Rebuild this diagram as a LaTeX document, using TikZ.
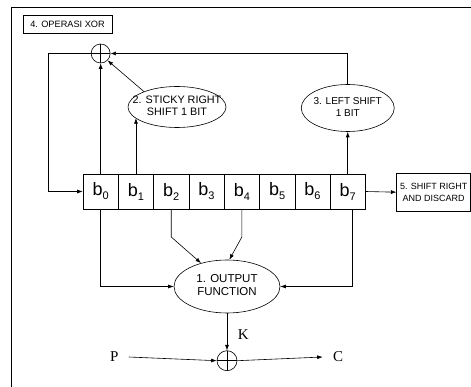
\documentclass[tikz,border=0pt]{standalone}
\usepackage{fontspec}
\setmainfont{Liberation Sans}
\newfontfamily\timesfont{Liberation Serif}
\usetikzlibrary{arrows.meta,shapes.geometric}

\newcommand{\bitlabel}[1]{b\raisebox{-4pt}{\fontsize{11}{11}\selectfont #1}}
\newcommand{\ovaltext}[2]{\makebox[40pt]{\begin{tabular}{@{}c@{}}#1\\#2\end{tabular}}}

\tikzset{
  cell/.style={draw, minimum width=35.3pt, minimum height=35pt, inner sep=0pt,
    font=\fontsize{18}{20}\selectfont},
  oval/.style={draw, ellipse, inner sep=0pt, font=\fontsize{10}{12}\selectfont},
  boxlabel/.style={draw, inner sep=0pt, align=center},
  xorop/.style={circle, draw, minimum size=19pt, inner sep=0pt,
    path picture={\draw (path picture bounding box.north) -- (path picture bounding box.south)
      (path picture bounding box.west) -- (path picture bounding box.east);}},
  sig/.style={inner sep=10pt, font=\timesfont\fontsize{15}{17}\selectfont},
}

\begin{document}
\begin{tikzpicture}[x=1pt, y=-1pt, line width=0.6pt, >={Latex[length=5.5pt,width=4pt]}]
	\useasboundingbox (0,0) rectangle (471,387);
	% frame
	\draw[line width=0.9pt] (471,7.5) -- (11,7.5) -- (11,387);
	
	\node[boxlabel, minimum width=89pt, minimum height=18pt, font=\fontsize{9.2}{11}\selectfont]
		(xorbox) at (67.5,24) {4. OPERASI XOR};
	
	% register
	\foreach \i in {0,...,7}
		\node[cell] (b\i) at (100.65+35.3*\i, 191.5) {\bitlabel{\i}};
	
	\node[xorop] (xor1) at (100.65,53.5) {};
	\node[oval, minimum width=98pt, minimum height=41pt, font=\fontsize{10.8}{12.5}\selectfont]
		(sticky) at (177,107) {\ovaltext{2. STICKY RIGHT}{SHIFT 1 BIT}};
	\node[oval, minimum width=93pt, minimum height=47pt] (lshift) at (347.75,108)
		{\ovaltext{3. LEFT SHIFT}{1 BIT}};
	\node[boxlabel, minimum width=74pt, minimum height=37.7pt, font=\fontsize{9}{12}\selectfont]
		(discard) at (433.7,192.2) {5. SHIFT RIGHT\\AND DISCARD};
	
	% feedback
	\draw[->] (b0.north) -- (xor1.south);
	\draw[->] (b1.north) -- (b1.north |- sticky.195);
	\draw[->] (sticky.155) -- (xor1.-45);
	\draw[->] (b7.north) -- (lshift.south);
	\draw[->] (lshift.north) |- (xor1.east);
	\draw[->] (xor1.west) -- ++(-43,0) |- (b0.west);
	\draw[->] (b7.east) -- (discard.west);
	
	% output
	\node[oval, minimum width=106pt, minimum height=53pt, font=\fontsize{11.5}{13}\selectfont]
		(out) at (227,286.5) {\ovaltext{1. OUTPUT}{FUNCTION}};
	\draw[->] (b0.south) |- (out.west);
	\draw[->] ([xshift=5pt]b7.south) |- (out.east);
	\draw[->] (b2.south) -- ++(0,27.7) -- (out.138);
	\draw[->] (b4.south) -- ++(0,27.7) -- (out.85);
	
	\node[xorop, minimum size=20pt] (xor2) at (227,360.7) {};
	\node[sig] (p) at (114.3,357) {P};
	\node[sig] (c) at (338,357) {C};
	\node[sig, inner sep=0pt] (k) at (243.3,335) {K};
	\draw[->] (out.south) -- (xor2.north);
	\draw[->] (p.east) -- (xor2.west);
	\draw[->] (xor2.east) -- (c.west);
\end{tikzpicture}
\end{document}
